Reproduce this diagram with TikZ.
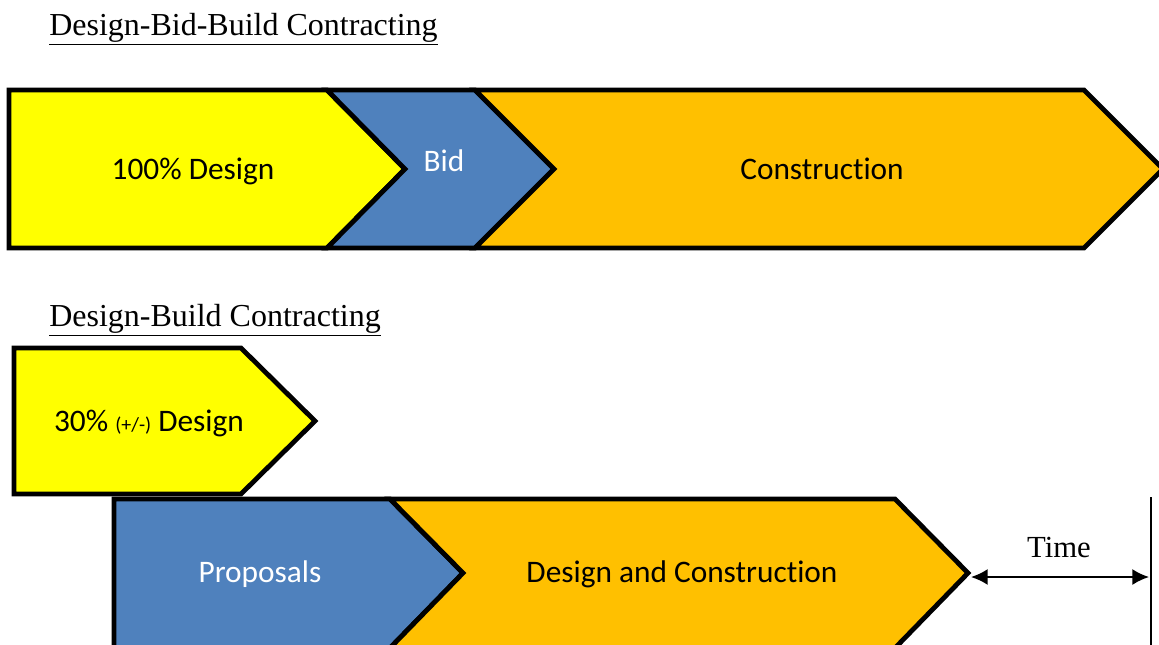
\documentclass[tikz,border=0pt]{standalone}
\usepackage{fontspec}
\setmainfont{Liberation Serif}
\newfontfamily\calib[Ligatures=NoCommon]{Carlito}
\usetikzlibrary{arrows.meta}
\definecolor{dyellow}{HTML}{FFFF00}
\definecolor{dblue}{HTML}{4F81BD}
\definecolor{dorange}{HTML}{FFC000}
\begin{document}
\begin{tikzpicture}[x=0.75pt,y=-0.75pt,
  chev/.style={draw=black,line width=3.6pt,line join=miter},
  lab/.style={font=\calib\fontsize{23.5}{28}\selectfont,inner sep=0pt,anchor=base},
  ttl/.style={font=\fontsize{24}{29}\selectfont,anchor=base west,inner sep=0pt},
  timearrow/.style={line width=1.4pt,{Latex[length=12.5pt,width=12pt]}-{Latex[length=12.5pt,width=12pt]}}]
\useasboundingbox (0,0) rectangle (1159,644);
\clip (0,0) rectangle (1159,644);
% titles
\node[ttl] (t1) at (49,35) {\underline{Design-Bid-Build Contracting}};
\node[ttl] (t2) at (49,326) {\underline{Design-Build Contracting}};
% top row
\draw[chev,fill=dyellow] (9,90) -- (327,90) -- (405,169) -- (327,248) -- (9,248) -- cycle;
\draw[chev,fill=dblue] (327,90) -- (475,90) -- (554,169) -- (475,248) -- (327,248) -- (405,169) -- cycle;
\draw[chev,fill=dorange] (475,90) -- (1084,90) -- (1163,169) -- (1084,248) -- (475,248) -- (554,169) -- cycle;
\node[lab] (d100) at (193,179) {100\% Design};
\node[lab,text=white] (bid) at (444,171) {Bid};
\node[lab] (cons) at (822,179) {Construction};
% bottom rows
\draw[chev,fill=dyellow] (14,348) -- (241,348) -- (315,421) -- (241,494) -- (14,494) -- cycle;
\node[lab] (d30) at (149,431) {30\% {\fontsize{15}{18}\selectfont(+/-)} Design};
\draw[chev,fill=dblue] (114,499) -- (390,499) -- (463,573) -- (390,648) -- (114,648) -- cycle;
\draw[chev,fill=dorange] (390,499) -- (895,499) -- (968,573) -- (895,648) -- (390,648) -- (463,573) -- cycle;
\node[lab,text=white] (prop) at (260,582) {Proposals};
\node[lab] (dc) at (682,582) {Design and Construction};
% time
\coordinate (tstart) at (971,577);
\coordinate (tend) at (1149,577);
\coordinate (vtop) at (1151,497);
\coordinate (vbot) at (1151,646);
\draw[line width=1.5pt] (vtop) -- (vbot);
\draw[timearrow] (tstart) -- (tend);
\node[font=\fontsize{23}{28}\selectfont,inner sep=0pt,anchor=base] (time) at (1059,557) {Time};
\end{tikzpicture}
\end{document}
